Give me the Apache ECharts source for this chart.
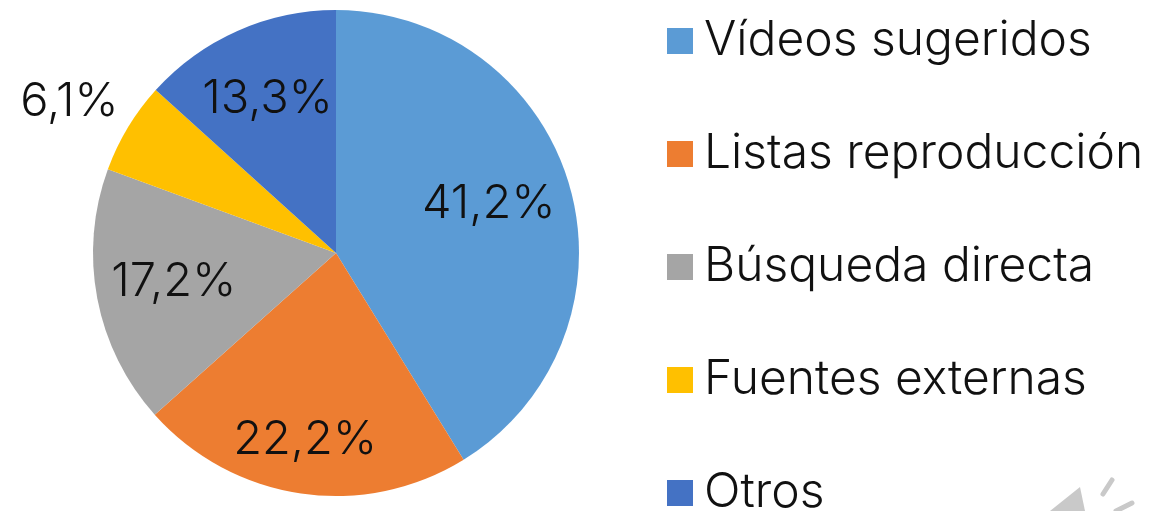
<!DOCTYPE html>
<html>
<head>
<meta charset="utf-8">
<style>
  html, body { margin: 0; padding: 0; background: #fff; }
  #chart { width: 1171px; height: 511px; }
</style>
<script src="https://cdn.jsdelivr.net/npm/echarts@6/dist/echarts.min.js"></script>
</head>
<body>
<div id="chart"></div>
<script>
const categories = ['Vídeos sugeridos', 'Listas reproducción', 'Búsqueda directa', 'Fuentes externas', 'Otros']
const values = [41.2, 22.2, 17.2, 6.1, 13.3]
const colors = ['#5B9BD5', '#ED7D31', '#A5A5A5', '#FFC000', '#4472C4']
// label shift from the default inside spot
const labelOffsets = [[33, -15], [-13, 64], [-40, 6], [-160, -87], [-18, -40]]

const chart = echarts.init(document.getElementById('chart'))

chart.setOption({
  animation: false,
  color: colors,
  legend: {
    orient: 'vertical',
    left: 662,
    top: 12,
    height: 700,
    icon: 'rect',
    itemWidth: 26,
    itemHeight: 26,
    itemGap: 65,
    selectedMode: false,
    data: categories,
    textStyle: {
      fontSize: 48,
      lineHeight: 48,
      fontFamily: 'Inter',
      fontWeight: 300,
      color: '#111',
      padding: [0, 0, 0, 6]
    }
  },
  series: [{
    type: 'pie',
    center: [336, 253],
    radius: [0, 243],
    startAngle: 90,
    clockwise: true,
    data: categories.map((name, i) => ({
      name,
      value: values[i],
      label: { offset: labelOffsets[i] }
    })),
    label: {
      position: 'inside',
      fontSize: 47,
      fontFamily: 'Inter',
      fontWeight: 300,
      color: '#111',
      formatter: p => p.value.toFixed(1).replace('.', ',') + '%'
    },
    labelLine: { show: false }
  }],
  // speaker watermark in the corner of the slide
  graphic: [
    { type: 'polygon', silent: true, shape: { points: [[1080, 487], [1050, 511], [1085, 511]] }, style: { fill: '#c9c9c9' } },
    { type: 'line', silent: true, shape: { x1: 1112, y1: 480, x2: 1103, y2: 494 }, style: { stroke: '#c9c9c9', lineWidth: 5, lineCap: 'round' } },
    { type: 'line', silent: true, shape: { x1: 1132, y1: 503, x2: 1116, y2: 511 }, style: { stroke: '#c9c9c9', lineWidth: 5, lineCap: 'round' } }
  ]
})
</script>
</body>
</html>
